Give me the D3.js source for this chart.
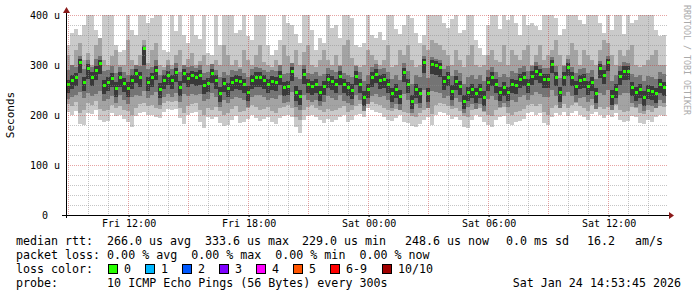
<!DOCTYPE html>
<html>
<head>
<meta charset="utf-8">
<script src="https://cdn.jsdelivr.net/npm/d3@7"></script>
<style>
body { margin: 0; background: #fff; }
text { font-family: "DejaVu Sans Mono", monospace; }
</style>
</head>
<body>
<script>
const w = 697, h = 297;

// data: one column per 12 minutes, values in microseconds
const startTime = new Date(Date.UTC(2026, 0, 23, 8, 53, 45));
const stepMinutes = 12;

const median = [262,270,276,306,266,294,276,290,304,260, 266,274,254,276,264,254,270,284,276,334,
  266,276,290,252,270,280,270,286,256,284, 274,280,276,280,260,264,284,270,244,264,
  254,266,270,269,263,246,270,276,276,270, 263,269,266,279,256,259,289,246,238,283,
  262,259,263,246,258,273,269,263,279,262, 256,251,279,263,236,253,276,283,270,273,
  263,243,253,239,286,263,229,253,243,306, 243,303,299,296,269,276,249,269,259,229,
  246,253,243,253,236,266,276,263,246,256, 246,263,260,273,277,263,279,289,283,273,
  273,303,276,245,276,296,276,259,270,273, 259,266,243,293,280,306,238,253,279,289,
  289,256,246,253,236,251,248,243,263,256];

// outer smoke (min / max ping)
const smokeHi1 = [340,365,372,360,380,400,400,370,355,400, 400,400,340,326,330,400,370,360,400,400,
  385,395,400,400,330,326,400,368,400,360, 345,400,360,352,400,325,320,400,
  340,400,400,400,365,370,400,358,350,400, 400,400,340,320,330,350,400,385,380,362,
  345,400,400,370,330,355,345,400,375,380, 355,400,400,395,340,336,345,
  400,360,355,366,350,400,400,372,362,380, 400,395,365,345,360,400,400,400,400,385,
  375,392,400,365,370,400,400,350,335,320, 380,400,400,372,400,390,400,385,
  360,400,380,385,378,370,400,400,400,395, 360,372,400,400,400,390,383,400,400,400,
  385,365,400,370,400,400,362,400,385,390, 400,400,400,400,370,358,360];
const smokeLo1 = [206,200,208,182,180,205,203,210,190,186, 188,204,198,200,192,186,176,198,204,206,
  200,201,196,194,207,212,210,212,194,182, 200,205,206,186,174,196,192,196,
  185,178,180,190,198,184,186,192,200,195, 188,192,196,186,182,194,198,200,196,176,
  165,190,198,200,196,190,184,192,186,190, 196,200,186,190,200,203,196,
  214,210,206,205,196,190,188,194,200,186, 184,178,176,182,190,196,180,200,206,204,
  200,192,196,190,176,174,190,200,196,186, 180,176,190,196,198,182,180,186,
  188,192,204,206,200,205,184,180,196,204, 200,206,198,204,208,200,196,190,202,206,
  200,194,200,196,204,190,186,188,198,196, 184,182,190,186,196,200,198];
// second smoke band
const smokeHi2 = [320,300,330,345,310,325,300,340,355,310, 300,318,330,300,300,350,310,298,320,350,
  305,330,345,300,296,310,300,320,330,300, 312,325,300,308,320,300,296,310,
  300,340,320,300,310,296,330,310,300,320, 340,306,300,296,310,300,340,318,300,330,
  300,326,340,300,296,310,330,310,300,320, 300,340,350,315,300,296,300,
  330,320,310,300,310,340,296,300,330,320, 340,310,296,300,340,330,350,345,340,330,
  320,300,330,310,296,320,340,300,296,300, 320,330,310,306,340,300,330,320,
  310,330,340,300,320,340,310,320,330,350, 320,300,320,345,330,300,330,320,310,300,
  330,350,345,320,300,330,318,330,340,300, 296,300,310,320,330,300,300];
const smokeLo2 = [222,218,226,205,210,224,220,228,212,208, 210,220,214,218,210,208,200,215,222,224,
  218,220,214,212,225,228,226,228,214,204, 218,222,224,210,200,214,210,216,
  208,200,204,212,218,206,208,214,220,216, 210,212,216,208,205,214,216,220,214,196,
  190,210,216,220,214,210,206,212,208,210, 214,218,206,210,218,222,214,
  230,226,222,220,214,210,208,212,218,206, 204,198,196,204,210,214,202,220,224,222,
  218,212,214,208,198,196,210,218,214,206, 200,198,210,214,216,204,200,206,
  208,212,220,222,218,222,206,200,214,220, 218,222,214,220,224,218,214,208,220,222,
  216,212,216,214,220,210,206,208,216,214, 204,202,210,206,214,218,216];
// third smoke band
const smokeHi3 = [290,300,296,318,292,310,296,312,318,288, 290,298,284,296,286,280,292,300,298,340,
  292,296,310,280,290,300,292,304,286,300, 296,298,294,300,284,286,302,290,276,286,
  280,290,288,292,284,276,292,296,294,290, 286,290,288,300,282,284,304,276,272,300,
  284,282,286,278,282,294,290,286,298,284, 280,276,298,286,268,280,296,302,292,294,
  286,272,280,270,304,288,262,280,276,318, 274,316,312,310,292,298,278,290,284,262,
  276,280,272,280,268,290,296,286,276,282, 276,288,284,294,298,288,298,306,300,294,
  294,316,298,274,298,312,296,284,292,294, 284,290,272,308,300,318,268,280,298,306,
  304,282,276,280,268,278,276,272,286,282];
const smokeLo3 = [232,236,240,246,234,244,238,242,248,228, 232,238,224,240,230,222,236,240,238,248,
  234,240,246,220,236,242,236,244,226,242, 238,242,240,242,228,232,244,236,216,230,
  224,232,236,234,230,216,236,240,240,236, 230,234,232,240,224,226,246,216,210,240,
  230,226,230,218,226,238,234,230,240,228, 224,220,240,230,208,222,238,242,236,238,
  230,214,222,210,242,230,204,222,214,250, 214,248,246,244,234,238,218,234,226,204,
  216,222,212,222,208,232,238,230,216,224, 216,230,226,236,240,230,240,246,242,236,
  236,250,238,214,238,246,238,226,234,236, 226,232,212,244,240,250,210,222,240,244,
  244,224,216,222,208,220,218,214,230,224];
// inner smoke band
const smokeHi4 = [270,280,284,312,276,302,286,298,310,270, 276,284,266,286,274,266,280,292,286,336,
  276,284,298,264,280,288,280,294,268,292, 284,288,286,290,270,274,292,280,256,274,
  264,276,280,278,272,258,280,286,286,280, 272,278,276,288,266,268,296,258,250,292,
  272,268,272,258,268,282,278,272,288,272, 266,262,288,272,248,262,286,292,280,282,
  272,254,262,250,294,272,240,262,254,312, 254,310,308,304,278,286,260,278,268,240,
  256,262,254,262,248,276,286,272,256,266, 256,272,270,282,286,272,288,298,292,282,
  282,310,286,256,286,304,286,268,280,282, 268,276,254,302,290,312,250,262,288,298,
  298,266,256,262,248,260,258,254,272,266];
const smokeLo4 = [244,252,258,284,248,272,258,270,282,242, 248,256,236,256,246,236,252,264,256,300,
  248,256,270,234,252,260,252,266,238,264, 256,262,258,260,242,246,264,252,226,246,
  236,248,252,250,244,228,252,256,256,252, 244,250,248,260,238,240,268,228,220,262,
  244,240,244,228,240,254,250,244,260,244, 238,232,260,244,218,234,256,264,252,254,
  244,226,234,222,266,244,212,234,224,284, 226,282,280,276,250,258,230,250,240,212,
  228,234,224,234,218,248,258,244,228,238, 228,244,242,254,258,244,260,270,264,254,
  254,284,258,226,258,278,258,240,252,254, 240,248,224,274,262,288,220,234,260,270,
  270,238,228,234,218,232,230,224,244,238];

const yTicks = [0, 100, 200, 300, 400];
const yTickLabels = ["0", "100 u", "200 u", "300 u", "400 u"];

const lossLabels = ["0", "1", "2", "3", "4", "5", "6-9", "10/10"];
const lossColors = ["#26ff00", "#00b8ff", "#0059ff", "#7e00ff", "#ff00ff", "#ff5500", "#ff0000", "#a10000"];

const statsLine1 = ["median rtt:", "266.0 us avg", "333.6 us max", "229.0 us min", "248.6 us now", "0.0 ms sd", "16.2", "am/s"];
const statsLine2 = "packet loss: 0.00 % avg  0.00 % max  0.00 % min  0.00 % now";
const probeLine = "probe:       10 ICMP Echo Pings (56 Bytes) every 300s";
const stampText = "Sat Jan 24 14:53:45 2026";

// plot box
const pLeft = 66, pRight = 666, pTop = 15, pBottom = 215;

const times = median.map((d, i) => d3.utcMinute.offset(startTime, i * stepMinutes));
const endTime = d3.utcMinute.offset(startTime, median.length * stepMinutes);

const x = d3.scaleUtc().domain([startTime, endTime]).range([pLeft, pRight]);
const y = d3.scaleLinear().domain([0, 400]).range([pBottom, pTop]);

const svg = d3.select("body").append("svg")
  .attr("width", w)
  .attr("height", h);

svg.append("defs").append("clipPath").attr("id", "plot")
  .append("rect").attr("x", pLeft).attr("y", pTop).attr("width", pRight - pLeft).attr("height", pBottom - pTop);

const g = svg.append("g").attr("clip-path", "url(#plot)");

const bands = [
  {lo: smokeLo1, hi: smokeHi1, fill: "#cacaca"},
  {lo: smokeLo2, hi: smokeHi2, fill: "#a3a3a3"},
  {lo: smokeLo3, hi: smokeHi3, fill: "#747474"},
  {lo: smokeLo4, hi: smokeHi4, fill: "#393939"}
];

bands.forEach(b => {
  g.append("g").selectAll("rect")
    .data(times)
    .join("rect")
    .attr("x", d => x(d))
    .attr("width", d => x(d3.utcMinute.offset(d, stepMinutes)) - x(d))
    .attr("y", (d, i) => y(b.hi[i]))
    .attr("height", (d, i) => y(b.lo[i]) - y(b.hi[i]))
    .attr("fill", b.fill)
    .attr("shape-rendering", "crispEdges");
});

// median
g.append("g").selectAll("rect")
  .data(times)
  .join("rect")
  .attr("x", d => Math.round(x(d)) + 0.5)
  .attr("y", (d, i) => Math.round(y(median[i])) - 1)
  .attr("width", 3)
  .attr("height", 3)
  .attr("fill", lossColors[0])
  .attr("shape-rendering", "crispEdges");

// grid on top, rrdtool style
const grid = svg.append("g").attr("shape-rendering", "crispEdges");
const minorY = d3.range(0, 401, 20).filter(v => v % 100 != 0);
grid.selectAll(".hmin").data(minorY).join("line")
  .attr("x1", pLeft).attr("x2", pRight + 2)
  .attr("y1", d => Math.round(y(d)) + 0.5).attr("y2", d => Math.round(y(d)) + 0.5)
  .attr("stroke", "rgba(140,140,140,0.5)").attr("stroke-dasharray", "1,1");
const hours = d3.utcHour.every(1).range(startTime, endTime);
grid.selectAll(".vmin").data(hours.filter(d => d.getUTCHours() % 3 != 0)).join("line")
  .attr("x1", d => Math.round(x(d)) + 0.5).attr("x2", d => Math.round(x(d)) + 0.5)
  .attr("y1", pTop).attr("y2", pBottom)
  .attr("stroke", "rgba(140,140,140,0.5)").attr("stroke-dasharray", "1,1");
grid.selectAll(".hmaj").data(yTicks.filter(v => v > 0)).join("line")
  .attr("x1", pLeft).attr("x2", pRight + 2)
  .attr("y1", d => Math.round(y(d)) + 0.5).attr("y2", d => Math.round(y(d)) + 0.5)
  .attr("stroke", "rgba(200,50,50,0.45)").attr("stroke-dasharray", "1,1");
grid.selectAll(".vmaj").data(hours.filter(d => d.getUTCHours() % 3 == 0)).join("line")
  .attr("x1", d => Math.round(x(d)) + 0.5).attr("x2", d => Math.round(x(d)) + 0.5)
  .attr("y1", pTop).attr("y2", pBottom)
  .attr("stroke", "rgba(200,50,50,0.45)").attr("stroke-dasharray", "1,1");

// axes
svg.append("line").attr("x1", 62).attr("x2", 670).attr("y1", pBottom + 0.5).attr("y2", pBottom + 0.5)
  .attr("stroke", "#000").attr("shape-rendering", "crispEdges");
svg.append("line").attr("x1", pLeft + 0.5).attr("x2", pLeft + 0.5).attr("y1", pBottom + 3).attr("y2", 11)
  .attr("stroke", "#000").attr("shape-rendering", "crispEdges");
svg.append("path").attr("d", `M669,${pBottom - 3}L674,${pBottom + 0.5}L669,${pBottom + 4}Z`).attr("fill", "#8b1a1a");
svg.append("path").attr("d", `M${pLeft - 3},13L${pLeft + 0.5},7L${pLeft + 4},13Z`).attr("fill", "#8b1a1a");

const xAxis = d3.axisBottom(x)
  .tickValues(hours.filter(d => d.getUTCHours() % 6 == 0))
  .tickFormat(d3.utcFormat("%a %H:%M"))
  .tickSize(2).tickSizeOuter(0).tickPadding(3);
const xg = svg.append("g").attr("transform", `translate(0.5,${pBottom})`).call(xAxis);
xg.select(".domain").remove();
xg.selectAll("text").attr("font-size", 10).attr("fill", "#000").attr("font-family", "DejaVu Sans Mono");

svg.append("g").selectAll("text").data(yTicks).join("text")
  .attr("x", d => d == 0 ? 48 : 60)
  .attr("y", d => y(d) + 3.5)
  .attr("text-anchor", "end")
  .attr("font-size", 10)
  .text((d, i) => yTickLabels[i]);

svg.append("text")
  .attr("transform", "translate(14,115) rotate(-90)")
  .attr("text-anchor", "middle")
  .attr("font-family", "DejaVu Sans")
  .attr("font-size", 11)
  .text("Seconds");

svg.append("text")
  .attr("transform", "translate(684,5) rotate(90)")
  .attr("font-size", 8.3)
  .attr("fill", "#aaa")
  .text("RRDTOOL / TOBI OETIKER");

// legend
const fs = 11.65;
const line1X = [16, 107, 205, 302, 405, 506, 587, 635];
svg.append("g").selectAll("text").data(statsLine1).join("text")
  .attr("x", (d, i) => line1X[i]).attr("y", 245)
  .attr("font-size", fs)
  .text(d => d);
svg.append("text").attr("x", 16).attr("y", 259).attr("font-size", fs)
  .style("white-space", "pre").text(statsLine2);
svg.append("text").attr("x", 16).attr("y", 273).attr("font-size", fs).text("loss color:");
const boxX = [108, 145, 182, 219, 256, 293, 330, 382];
const lg = svg.append("g").selectAll("g").data(lossLabels).join("g");
lg.append("rect")
  .attr("x", (d, i) => boxX[i] + 0.5).attr("y", 264.5)
  .attr("width", 9).attr("height", 9)
  .attr("fill", (d, i) => lossColors[i])
  .attr("stroke", "#000");
lg.append("text")
  .attr("x", (d, i) => boxX[i] + 16).attr("y", 273)
  .attr("font-size", fs)
  .text(d => d);
svg.append("text").attr("x", 16).attr("y", 287).attr("font-size", fs)
  .style("white-space", "pre").text(probeLine);
svg.append("text").attr("x", 681).attr("y", 287).attr("font-size", fs)
  .attr("text-anchor", "end").text(stampText);
</script>
</body>
</html>
